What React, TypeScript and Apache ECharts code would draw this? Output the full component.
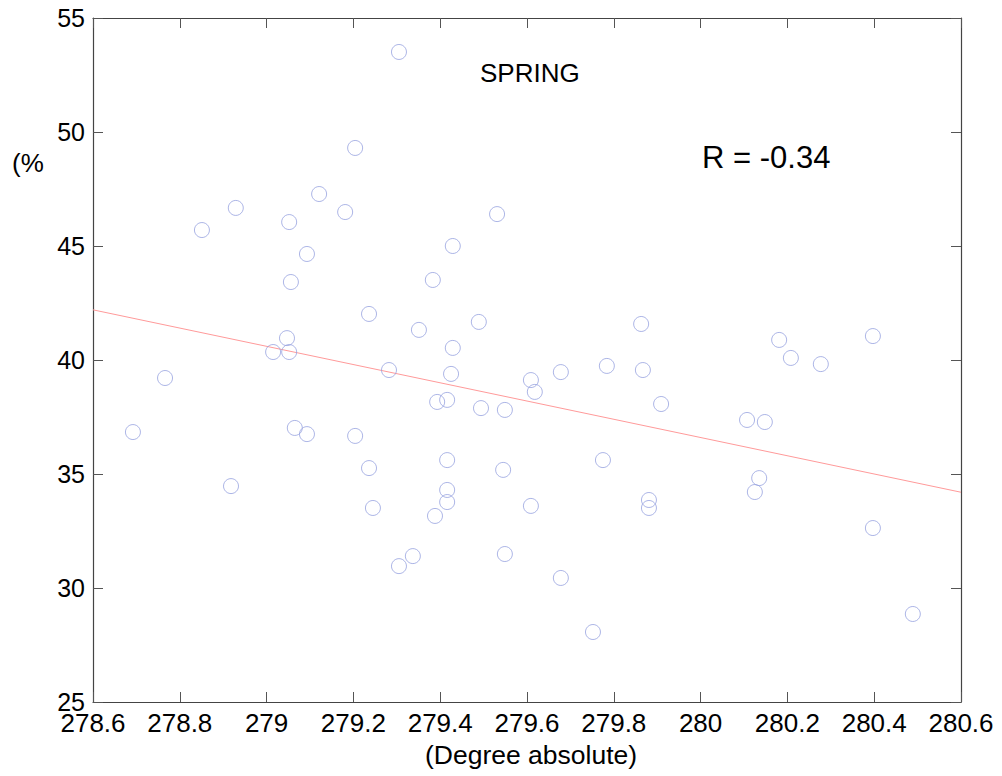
import React, { useEffect, useRef } from "react";
import * as echarts from "echarts";

const xValues = [
  279.305, 279.204, 279.121, 278.929, 279.181, 278.851, 279.052, 279.531, 279.429, 279.093,
  279.056, 279.383, 279.236, 279.351, 279.489, 279.047, 279.015, 279.052, 279.429, 278.766,
  279.282, 279.425, 279.609, 279.678, 279.618, 279.784, 279.863, 279.867, 279.909, 279.393,
  279.416, 279.494, 279.549, 280.107, 280.148, 280.181, 280.208, 280.277, 280.397, 278.692,
  279.065, 279.093, 279.204, 279.236, 279.416, 279.545, 278.918, 279.416, 279.416, 279.245,
  279.388, 279.609, 279.775, 279.881, 279.881, 280.135, 280.125, 279.337, 279.305, 279.549,
  279.678, 279.752, 280.397, 280.489,
];
const yValues = [
  53.51, 49.3, 47.28, 46.67, 46.49, 45.7, 46.05, 46.4, 45.0, 44.65,
  43.42, 43.51, 42.02, 41.32, 41.67, 40.96, 40.35, 40.35, 40.53, 39.21,
  39.56, 39.39, 39.12, 39.47, 38.6, 39.74, 41.58, 39.56, 38.07, 38.16,
  38.25, 37.89, 37.81, 37.37, 37.28, 40.88, 40.09, 39.82, 41.05, 36.84,
  37.02, 36.75, 36.67, 35.26, 35.61, 35.18, 34.47, 34.3, 33.77, 33.51,
  33.16, 33.6, 35.61, 33.86, 33.51, 34.82, 34.21, 31.4, 30.96, 31.49,
  30.44, 28.07, 32.63, 28.86,
];
const trendX = [278.6, 280.6];
const trendY = [42.2, 34.2];

const xMin = 278.6;
const xMax = 280.6;
const yMin = 25;
const yMax = 55;

const FONT = "'Liberation Sans', Arial, Helvetica, sans-serif";

export default function App() {
  const ref = useRef<HTMLDivElement>(null);
  useEffect(() => {
    if (!ref.current) return;
    const chart = echarts.init(ref.current, null, { renderer: "svg" });
    const tickStyle = { color: "#555", width: 1 };
    const lineStyle = { color: "#444", width: 1.2 };
    const fmt = (v: number) => String(parseFloat(v.toFixed(1)));
    chart.setOption({
      animation: false,
      backgroundColor: "#fff",
      grid: { left: 93, top: 18, width: 868, height: 684, containLabel: false },
      xAxis: [
        {
          type: "value",
          position: "bottom",
          min: xMin,
          max: xMax,
          interval: 0.2,
          axisLine: { show: true, onZero: false, lineStyle },
          axisTick: { show: true, inside: true, length: 10, lineStyle: tickStyle },
          axisLabel: {
            show: true,
            fontSize: 26,
            lineHeight: 20,
            color: "#000",
            fontFamily: FONT,
            margin: 11,
            formatter: fmt,
          },
          splitLine: { show: false },
        },
        {
          type: "value",
          position: "top",
          min: xMin,
          max: xMax,
          interval: 0.2,
          axisLine: { show: true, onZero: false, lineStyle },
          axisTick: { show: true, inside: true, length: 10, lineStyle: tickStyle },
          axisLabel: { show: false },
          splitLine: { show: false },
        },
      ],
      yAxis: [
        {
          type: "value",
          position: "left",
          min: yMin,
          max: yMax,
          interval: 5,
          axisLine: { show: true, onZero: false, lineStyle },
          axisTick: { show: true, inside: true, length: 10, lineStyle: tickStyle },
          axisLabel: { show: true, fontSize: 25, lineHeight: 16, color: "#000", fontFamily: FONT, margin: 8 },
          splitLine: { show: false },
        },
        {
          type: "value",
          position: "right",
          min: yMin,
          max: yMax,
          interval: 5,
          axisLine: { show: true, onZero: false, lineStyle },
          axisTick: { show: true, inside: true, length: 10, lineStyle: tickStyle },
          axisLabel: { show: false },
          splitLine: { show: false },
        },
      ],
      series: [
        {
          type: "line",
          data: trendX.map((x, i) => [x, trendY[i]]),
          symbol: "none",
          lineStyle: { color: "#ff9a9a", width: 1 },
          z: 1,
        },
        {
          type: "scatter",
          data: xValues.map((x, i) => [x, yValues[i]]),
          symbol: "circle",
          symbolSize: 15,
          itemStyle: { color: "transparent", borderColor: "#97a3e0", borderWidth: 1 },
          z: 2,
        },
      ],
      graphic: [
        {
          type: "text",
          left: 480,
          top: 60,
          style: { text: "SPRING", fontSize: 26, fill: "#000", fontFamily: FONT },
        },
        {
          type: "text",
          left: 702,
          top: 142,
          style: { text: "R = -0.34", fontSize: 31, fill: "#000", fontFamily: FONT },
        },
        {
          type: "text",
          left: 12,
          top: 150,
          style: { text: "(%", fontSize: 26, fill: "#000", fontFamily: FONT },
        },
        {
          type: "text",
          left: 425,
          top: 741,
          style: { text: "(Degree absolute)", fontSize: 26.5, fill: "#000", fontFamily: FONT },
        },
      ],
    });
    return () => chart.dispose();
  }, []);
  return (
    <div
      ref={ref}
      style={{ position: "fixed", left: 0, top: 0, width: 1002, height: 776, background: "#fff" }}
    />
  );
}
